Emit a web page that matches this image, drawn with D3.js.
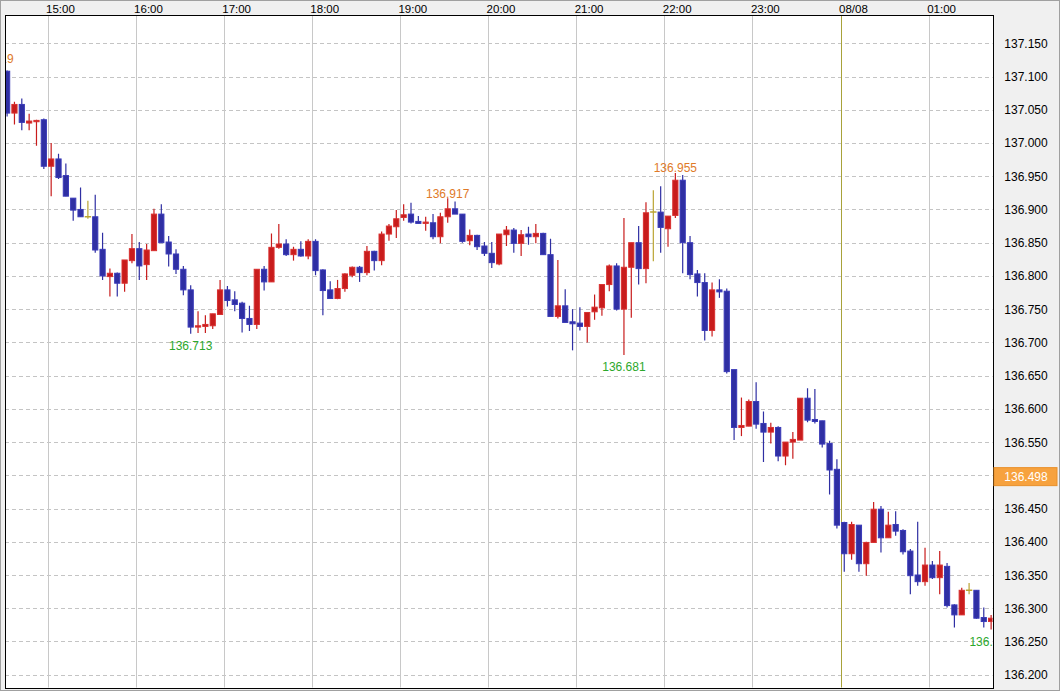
<!DOCTYPE html>
<html><head><meta charset="utf-8">
<script src="https://cdn.jsdelivr.net/npm/d3@7"></script>
<style>html,body{margin:0;padding:0;background:#f0f0f0;overflow:hidden}</style>
</head><body><svg id="c" width="1060" height="691"></svg>
<script>
const times = [
"14:30","14:35","14:40","14:45","14:50","14:55",
"15:00","15:05","15:10","15:15","15:20","15:25","15:30","15:35","15:40","15:45","15:50","15:55",
"16:00","16:05","16:10","16:15","16:20","16:25","16:30","16:35","16:40","16:45","16:50","16:55",
"17:00","17:05","17:10","17:15","17:20","17:25","17:30","17:35","17:40","17:45","17:50","17:55",
"18:00","18:05","18:10","18:15","18:20","18:25","18:30","18:35","18:40","18:45","18:50","18:55",
"19:00","19:05","19:10","19:15","19:20","19:25","19:30","19:35","19:40","19:45","19:50","19:55",
"20:00","20:05","20:10","20:15","20:20","20:25","20:30","20:35","20:40","20:45","20:50","20:55",
"21:00","21:05","21:10","21:15","21:20","21:25","21:30","21:35","21:40","21:45","21:50","21:55",
"22:00","22:05","22:10","22:15","22:20","22:25","22:30","22:35","22:40","22:45","22:50","22:55",
"23:00","23:05","23:10","23:15","23:20","23:25","23:30","23:35","23:40","23:45","23:50","23:55",
"00:00","00:05","00:10","00:15","00:20","00:25","00:30","00:35","00:40","00:45","00:50","00:55",
"01:00","01:05","01:10","01:15","01:20","01:25","01:30","01:35","01:40"];

const opens = [
137.108,137.045,137.058,137.030,137.032,137.035,136.965,136.976,136.951,136.917,
136.900,136.889,136.889,136.840,136.799,136.804,136.789,136.823,136.841,136.817,
136.838,136.893,136.851,136.833,136.810,136.779,136.723,136.724,136.725,136.742,
136.779,136.764,136.759,136.736,136.727,136.810,136.791,136.843,136.848,136.832,
136.840,136.830,136.852,136.809,136.779,136.766,136.781,136.801,136.813,136.805,
136.837,136.823,136.863,136.874,136.888,136.893,136.882,136.879,136.880,136.859,
136.889,136.901,136.893,136.853,136.861,136.845,136.834,136.818,136.862,136.869,
136.849,136.863,136.859,136.864,136.832,136.739,136.755,136.731,136.729,136.724,
136.746,136.752,136.787,136.815,136.750,136.813,136.850,136.811,136.896,136.896,
136.871,136.891,136.944,136.850,136.803,136.790,136.718,136.779,136.777,136.659,
136.572,136.574,136.611,136.578,136.565,136.572,136.529,136.550,136.553,136.616,
136.584,136.582,136.548,136.509,136.429,136.382,136.425,136.367,136.399,136.449,
136.406,136.426,136.417,136.386,136.350,136.340,136.365,136.346,136.363,136.305,
136.290,136.327,136.327,136.286,136.280];

const highs = [
137.109,137.062,137.067,137.044,137.035,137.037,137.000,136.984,136.969,136.917,
136.933,136.913,136.922,136.865,136.811,136.805,136.824,136.863,136.851,136.848,
136.901,136.908,136.860,136.840,136.815,136.786,136.747,136.741,136.743,136.794,
136.785,136.777,136.761,136.755,136.810,136.815,136.864,136.878,136.855,136.844,
136.852,136.855,136.855,136.810,136.792,136.794,136.804,136.814,136.815,136.845,
136.838,136.867,136.878,136.899,136.908,136.910,136.890,136.889,136.893,136.895,
136.917,136.912,136.893,136.870,136.862,136.851,136.851,136.863,136.875,136.872,
136.869,136.874,136.878,136.865,136.856,136.824,136.780,136.750,136.753,136.745,
136.772,136.787,136.817,136.819,136.887,136.850,136.875,136.911,136.929,136.935,
136.890,136.955,136.952,136.860,136.809,136.804,136.790,136.795,136.781,136.659,
136.617,136.614,136.640,136.596,136.579,136.574,136.550,136.565,136.616,136.631,
136.630,136.582,136.552,136.524,136.430,136.430,136.425,136.400,136.460,136.454,
136.445,136.446,136.419,136.389,136.430,136.391,136.371,136.386,136.368,136.306,
136.331,136.338,136.327,136.301,136.290];

const lows = [
137.040,137.028,137.019,137.019,136.996,136.961,136.920,136.946,136.920,136.883,
136.889,136.886,136.835,136.794,136.769,136.769,136.776,136.819,136.794,136.794,
136.838,136.850,136.814,136.803,136.771,136.713,136.714,136.714,136.720,136.742,
136.754,136.747,136.715,136.717,136.720,136.778,136.791,136.841,136.830,136.823,
136.829,136.825,136.801,136.741,136.766,136.765,136.776,136.798,136.791,136.801,
136.808,136.816,136.853,136.857,136.883,136.879,136.879,136.868,136.855,136.849,
136.880,136.893,136.850,136.846,136.839,136.830,136.812,136.816,136.845,136.835,
136.830,136.847,136.849,136.832,136.739,136.736,136.730,136.688,136.718,136.700,
136.734,136.740,136.777,136.748,136.681,136.737,136.787,136.789,136.822,136.835,
136.844,136.887,136.804,136.795,136.769,136.703,136.709,136.767,136.653,136.553,
136.559,136.574,136.570,136.520,136.548,136.521,136.515,136.525,136.553,136.580,
136.578,136.542,136.471,136.420,136.355,136.373,136.355,136.349,136.399,136.384,
136.406,136.409,136.381,136.321,136.334,136.334,136.344,136.321,136.301,136.271,
136.290,136.321,136.284,136.271,136.268];

const closes = [
137.045,137.058,137.031,137.033,137.034,136.965,136.976,136.948,136.920,136.899,
136.889,136.889,136.839,136.800,136.804,136.789,136.824,136.841,136.815,136.839,
136.893,136.850,136.833,136.810,136.779,136.723,136.725,136.727,136.743,136.779,
136.763,136.757,136.736,136.727,136.810,136.791,136.843,136.848,136.832,136.840,
136.830,136.852,136.808,136.778,136.766,136.781,136.803,136.813,136.805,136.837,
136.823,136.863,136.875,136.886,136.892,136.881,136.879,136.881,136.859,136.889,
136.901,136.893,136.852,136.861,136.844,136.834,136.820,136.863,136.869,136.849,
136.862,136.859,136.864,136.832,136.739,136.755,136.730,136.728,136.724,136.745,
136.753,136.787,136.815,136.750,136.813,136.850,136.811,136.895,136.896,136.873,
136.890,136.944,136.850,136.802,136.790,136.718,136.779,136.776,136.656,136.572,
136.575,136.611,136.577,136.565,136.572,136.529,136.550,136.554,136.616,136.583,
136.581,136.547,136.508,136.425,136.382,136.426,136.367,136.399,136.449,136.406,
136.425,136.416,136.385,136.349,136.340,136.365,136.346,136.365,136.304,136.290,
136.327,136.327,136.285,136.280,136.285];

const xTickTimes  = ["15:00","16:00","17:00","18:00","19:00","20:00","21:00","22:00","23:00","00:00","01:00"];
const xTickLabels = ["15:00","16:00","17:00","18:00","19:00","20:00","21:00","22:00","23:00","08/08","01:00"];
const yTicks = [136.20,136.25,136.30,136.35,136.40,136.45,136.50,136.55,136.60,136.65,136.70,136.75,136.80,136.85,136.90,136.95,137.00,137.05,137.10,137.15];
const yTickLabels = ["136.200","136.250","136.300","136.350","136.400","136.450","136.500","136.550","136.600","136.650","136.700","136.750","136.800","136.850","136.900","136.950","137.000","137.050","137.100","137.150"];
const extremeTimes  = ["14:20","16:35","19:30","21:30","22:05","01:40"];
const extremeValues = [137.119,136.713,136.917,136.681,136.955,136.268];
const extremeKinds  = ["high","low","high","low","high","low"];
const currentPrice = 136.498;

const n = times.length;
if (opens.length!==n||highs.length!==n||lows.length!==n||closes.length!==n) throw new Error("length mismatch "+[n,opens.length,highs.length,lows.length,closes.length]);

function toDate(s){ const [h,m]=s.split(":").map(Number); return new Date(Date.UTC(2022,7,h<12?8:7,h,m)); }

const plot = {left:5, top:15, right:993, bottom:688};
const x = d3.scaleUtc().domain([toDate("15:00"), toDate("01:00")]).range([47.5, 928.7]);
const y = d3.scaleLinear().domain([136.2, 137.15]).range([674.7, 43.3]);
const step = x(toDate("15:05")) - x(toDate("15:00"));
const cx = t => x(toDate(t)) + step/2;

const svg = d3.select("#c");
svg.append("rect").attr("x",0.5).attr("y",0.5).attr("width",1059).attr("height",690)
  .attr("fill","#f0f0f0").attr("stroke","#a0a0a0");

svg.append("defs").append("clipPath").attr("id","pc").append("rect")
  .attr("x",plot.left+0.5).attr("y",plot.top+0.5).attr("width",plot.right-plot.left-1).attr("height",plot.bottom-plot.top-1);

svg.append("rect").attr("x",plot.left+0.5).attr("y",plot.top+0.5)
  .attr("width",plot.right-plot.left).attr("height",plot.bottom-plot.top).attr("fill","#ffffff");

const g = svg.append("g").attr("clip-path","url(#pc)");

// horizontal dashed grid
g.selectAll("line.hg").data(yTicks).join("line").attr("class","hg")
  .attr("x1",plot.left).attr("x2",plot.right)
  .attr("y1",d=>Math.round(y(d))+0.5).attr("y2",d=>Math.round(y(d))+0.5)
  .attr("stroke","#c4c4c4").attr("stroke-dasharray","4,3");

// vertical grid
g.selectAll("line.vg").data(xTickTimes).join("line").attr("class","vg")
  .attr("x1",d=>Math.round(x(toDate(d)))+0.5).attr("x2",d=>Math.round(x(toDate(d)))+0.5)
  .attr("y1",plot.top).attr("y2",plot.bottom)
  .attr("stroke",(d,i)=>xTickLabels[i].includes("/")?"#a8a23a":"#c8c8c8");

const candles = times.map((t,i)=>({t,o:opens[i],h:highs[i],l:lows[i],c:closes[i]}));
const colorOf = d => d.c>d.o ? "#c81c1c" : (d.c<d.o ? "#2f2fa3" : "#bba432");
const strokeOf = d => d.c>d.o ? "#d83030" : (d.c<d.o ? "#3a3ab8" : "#bba432");

const cg = g.append("g");
cg.selectAll("line.wick").data(candles).join("line").attr("class","wick")
  .attr("x1",d=>cx(d.t)).attr("x2",d=>cx(d.t))
  .attr("y1",d=>y(d.h)).attr("y2",d=>y(d.l))
  .attr("stroke",colorOf).attr("stroke-width",1.2);

cg.selectAll("rect.body").data(candles.filter(d=>d.c!==d.o)).join("rect").attr("class","body")
  .attr("x",d=>cx(d.t)-2.6).attr("width",5.2)
  .attr("y",d=>y(Math.max(d.o,d.c))).attr("height",d=>Math.max(1,Math.abs(y(d.o)-y(d.c))))
  .attr("fill",colorOf).attr("stroke",strokeOf).attr("stroke-width",1);

cg.selectAll("line.doji").data(candles.filter(d=>d.c===d.o)).join("line").attr("class","doji")
  .attr("x1",d=>cx(d.t)-3.2).attr("x2",d=>cx(d.t)+3.2)
  .attr("y1",d=>y(d.o)).attr("y2",d=>y(d.o))
  .attr("stroke",colorOf).attr("stroke-width",1.5);

// extreme labels
const ext = extremeTimes.map((t,i)=>({t,v:extremeValues[i],k:extremeKinds[i]}));
g.selectAll("text.ext").data(ext).join("text").attr("class","ext")
  .attr("x",d=>cx(d.t)).attr("y",d=>d.k==="high"? y(d.v)-0.5 : y(d.v)+16)
  .attr("text-anchor","middle").attr("font-family","'Liberation Sans', Arial, sans-serif").attr("font-size",12)
  .attr("fill",d=>d.k==="high"?"#e07a28":"#2ca82c")
  .text(d=>d.v.toFixed(3));

// plot border
svg.append("rect").attr("x",plot.left+0.5).attr("y",plot.top+0.5)
  .attr("width",plot.right-plot.left).attr("height",plot.bottom-plot.top)
  .attr("fill","none").attr("stroke","#000000");

// top time labels
svg.selectAll("text.xl").data(xTickTimes).join("text").attr("class","xl")
  .attr("x",d=>x(toDate(d))-1.5).attr("y",12.5)
  .attr("font-family","'Liberation Sans Narrow','Arial Narrow',sans-serif").attr("font-size",11.5)
  .attr("fill","#000").text((d,i)=>xTickLabels[i]);

// right axis labels
svg.selectAll("text.yl").data(yTicks).join("text").attr("class","yl")
  .attr("x",1026).attr("y",d=>y(d)+4.5).attr("text-anchor","middle")
  .attr("font-family","'Liberation Sans Narrow','Arial Narrow',sans-serif").attr("font-size",12)
  .attr("fill","#000").text((d,i)=>yTickLabels[i]);

// current price marker
const py = y(currentPrice);
svg.append("rect").attr("x",994).attr("y",py-9).attr("width",63).attr("height",18)
  .attr("fill","#f7a23e").attr("stroke","#e8902a");
svg.append("text").attr("x",1026).attr("y",py+4.5).attr("text-anchor","middle")
  .attr("font-family","'Liberation Sans Narrow','Arial Narrow',sans-serif").attr("font-size",12)
  .attr("fill","#ffffff").text(currentPrice.toFixed(3));
</script></body></html>
